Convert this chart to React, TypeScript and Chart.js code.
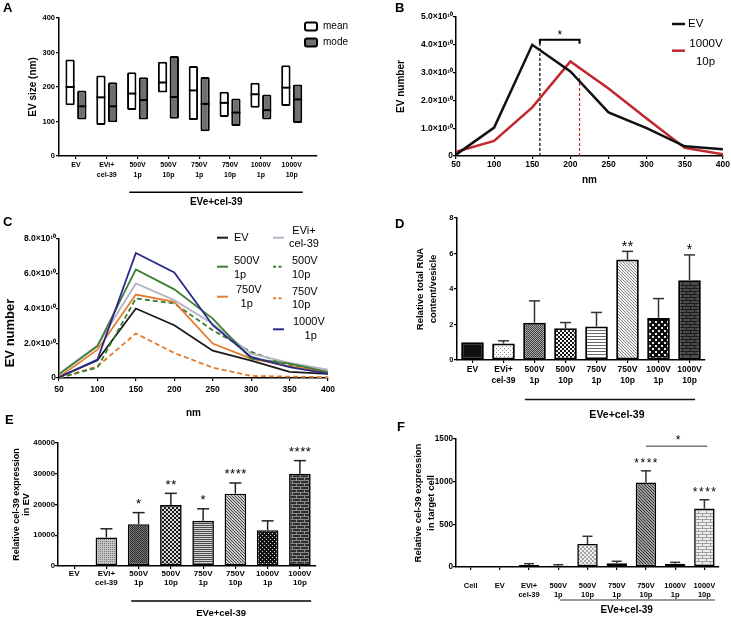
import React, { useEffect, useRef } from 'react';
import { Chart, registerables } from 'chart.js';

Chart.register(...registerables);

const FONT = 'Arial, "Liberation Sans", Helvetica, sans-serif';
Chart.defaults.font.family = FONT;
Chart.defaults.color = '#000';

// ================= DATA =================
const groupLabels: string[][] = [
  ['EV'], ['EVi+', 'cel-39'], ['500V', '1p'], ['500V', '10p'],
  ['750V', '1p'], ['750V', '10p'], ['1000V', '1p'], ['1000V', '10p'],
];
const targetLabels: string[][] = [['Cell'], ...groupLabels];
const groupCaption = 'EVe+cel-39';

// Panel A: EV size (nm), floating boxes low/high with median line
const meanLow = [147, 90, 133, 184, 104, 113, 140, 145];
const meanMid = [200, 170, 181, 213, 190, 154, 179, 198];
const meanHigh = [280, 233, 243, 273, 261, 186, 212, 263];
const modeLow = [106, 98, 106, 108, 72, 87, 106, 96];
const modeMid = [144, 144, 162, 171, 151, 126, 133, 164];
const modeHigh = [190, 214, 228, 290, 229, 167, 178, 207];

// Panels B and C: size distribution (EV number per size bin)
const sizeBins = [50, 100, 150, 200, 250, 300, 350, 400];
const countEV = [0.05e10, 1.02e10, 4.0e10, 3.04e10, 1.57e10, 1.0e10, 0.35e10, 0.24e10];
const countEVi = [0.25e10, 1.88e10, 5.44e10, 4.48e10, 3.13e10, 1.4e10, 0.87e10, 0.48e10];
const count500V1p = [0.21e10, 1.83e10, 6.25e10, 5.1e10, 3.42e10, 1.12e10, 0.83e10, 0.35e10];
const count500V10p = [0, 0.6e10, 4.58e10, 4.29e10, 2.75e10, 1.5e10, 0.73e10, 0.29e10];
const count750V1p = [0.05e10, 1.63e10, 4.8e10, 4.38e10, 1.98e10, 1.12e10, 0.67e10, 0.35e10];
const count750V10p = [0, 0.67e10, 2.56e10, 1.44e10, 0.6e10, 0.12e10, 0.08e10, 0.05e10];
const count1000V1p = [0.05e10, 1.06e10, 7.2e10, 6.08e10, 3.04e10, 1.21e10, 0.63e10, 0.25e10];
const count1000V10p = [0.15e10, 0.54e10, 1.75e10, 3.4e10, 2.43e10, 1.35e10, 0.29e10, 0.06e10];
const peakEV = 160;
const peak1000V10p = 212;
const bracketTop = 4.18e10;
const bracketFoot = 4.04e10;
const redGuideTop = 2.9e10;

// Panel D: relative total RNA content / vesicle
const rnaMean = [1.0, 0.93, 2.1, 1.79, 1.89, 5.66, 2.37, 4.5];
const rnaSem = [0, 0.15, 1.23, 0.32, 0.79, 0.46, 1.09, 1.42];
const rnaStars = ['', '', '', '', '', '**', '', '*'];

// Panel E: relative cel-39 expression in EV
const evExpr = [0, 9300, 13600, 19800, 14700, 23530, 11650, 30000];
const evExprSem = [0, 2800, 3760, 3830, 3900, 3470, 3030, 4270];
const evExprStars = ['', '', '*', '**', '*', '****', '', '****'];

// Panel F: relative cel-39 expression in target cell
const cellExpr = [1, 2, 23, 16, 270, 45, 990, 38, 685];
const cellExprSem = [0, 0, 16, 11, 90, 22, 137, 17, 103];
const cellExprStars = ['', '', '', '', '', '', '****', '', '****'];

// ================= HELPERS =================
const RED = '#c1272d';
const GREEN = '#3b7d33';
const ORANGE = '#e57b2c';
const NAVY = '#2b2a8a';
const LIGHT = '#b4b4c4';

const tickGrid = () => ({
  display: true, drawOnChartArea: false, drawTicks: true, tickLength: 3,
  tickWidth: 1.2, tickColor: '#000', offset: false, color: '#000', lineWidth: 1.2,
});
const axisBorder = () => ({ display: true, color: '#000', width: 1.5 });
const boldFont = (size: number, lineHeight = 1.2) => ({ family: FONT, size, weight: 'bold' as const, lineHeight });
const fitW = (w: number) => (s: any) => { s.width = w; };
const fitH = (h: number) => (s: any) => { s.height = h; };
const baseOpts = (top: number, right: number) => ({
  responsive: false,
  animation: false as const,
  events: [] as any[],
  layout: { padding: { left: 0, top, right, bottom: 0 } },
  plugins: { legend: { display: false }, tooltip: { enabled: false } },
});
const sciTick = (v: any) => (v === 0 ? '0' : `${(v / 1e10).toFixed(1)}×10¹⁰`);
const plainTick = (v: any) => String(v);

function text(ctx: any, s: string, x: number, y: number, font: string, align = 'left', color = '#000', rot = 0) {
  ctx.save();
  ctx.translate(x, y);
  if (rot) ctx.rotate(rot);
  ctx.font = font;
  ctx.fillStyle = color;
  ctx.textAlign = align;
  ctx.textBaseline = 'middle';
  ctx.fillText(s, 0, 0);
  ctx.restore();
}
function seg(ctx: any, x1: number, y1: number, x2: number, y2: number, color: string, w: number, dash: number[] = []) {
  ctx.save();
  ctx.strokeStyle = color;
  ctx.lineWidth = w;
  ctx.setLineDash(dash);
  ctx.beginPath();
  ctx.moveTo(x1, y1);
  ctx.lineTo(x2, y2);
  ctx.stroke();
  ctx.restore();
}
const letterFont = `bold 13px ${FONT}`;

function groupBar(chart: any, from: number, to: number, at: number, lineY: number, textY: number, color: string, font: string) {
  const xs = chart.scales.x;
  seg(chart.ctx, xs.getPixelForValue(from), lineY, xs.getPixelForValue(to), lineY, color, 1.4);
  text(chart.ctx, groupCaption, xs.getPixelForValue(at), textY, font, 'center');
}

function errorBars(sem: number[], stars: string[], cap: number, starSize: number, spacing: number, gap: number, color: string) {
  return {
    id: 'errorBars',
    afterDatasetsDraw(chart: any) {
      const meta = chart.getDatasetMeta(0);
      const ys = chart.scales.y;
      const vals = chart.data.datasets[0].data;
      const ctx = chart.ctx;
      meta.data.forEach((el: any, i: number) => {
        const top = ys.getPixelForValue(vals[i] + sem[i]);
        if (sem[i] > 0) {
          seg(ctx, el.x, el.y, el.x, top, color, 1.5);
          seg(ctx, el.x - cap, top, el.x + cap, top, color, 1.5);
        }
        if (stars[i]) {
          ctx.save();
          ctx.font = `${starSize}px ${FONT}`;
          (ctx as any).letterSpacing = `${spacing}px`;
          ctx.fillStyle = '#000';
          ctx.textAlign = 'center';
          ctx.textBaseline = 'alphabetic';
          ctx.fillText(stars[i], el.x + spacing / 2, top - gap);
          ctx.restore();
        }
      });
    },
  };
}

function pat(w: number, h: number, bg: string, fg: string, cells: number[][]): any {
  const cv = document.createElement('canvas');
  cv.width = w;
  cv.height = h;
  const c = cv.getContext('2d')!;
  c.fillStyle = bg;
  c.fillRect(0, 0, w, h);
  c.fillStyle = fg;
  cells.forEach(([x, y, cw = 1, ch = 1]) => c.fillRect(x, y, cw, ch));
  return c.createPattern(cv, 'repeat');
}
const fineChecker = (a: string, b: string) => pat(2, 2, a, b, [[0, 0], [1, 1]]);
const checker = (a: string, b: string, s: number) => pat(2 * s, 2 * s, a, b, [[0, 0, s, s], [s, s, s, s]]);
const hLines = (bg: string, fg: string, step: number) => pat(1, step, bg, fg, [[0, 0]]);
const diagLines = (bg: string, fg: string, step: number) => pat(step, step, bg, fg, [[0, 0], [1, 1], [2, 2], [3, 3]].slice(0, step));
const dotGrid = (bg: string, fg: string, step: number, d: number) => pat(2 * step, 2 * step, bg, fg, [[0, 0, d, d], [step, step, d, d]]);
const bricks = (bg: string, fg: string) => pat(8, 6, bg, fg, [[0, 0, 8, 1], [0, 3, 8, 1], [0, 1, 1, 2], [4, 4, 1, 2]]);

// ================= PANEL A =================
function makeA(cv: HTMLCanvasElement) {
  const idx = groupLabels.map((_, i) => i);
  const boxBase = { type: 'bar', order: 2, borderColor: '#000', borderWidth: 2, borderSkipped: false, borderRadius: 1.5, categoryPercentage: 0.76, barPercentage: 0.8 };
  const medBase = { type: 'scatter', order: 1, pointStyle: 'line', pointRadius: 4.5, pointBorderWidth: 2, pointBorderColor: '#000', borderColor: '#000', backgroundColor: '#000' };
  return new Chart(cv, {
    type: 'bar',
    data: {
      datasets: [
        { ...boxBase, label: 'mean', backgroundColor: '#fff', data: idx.map((i) => ({ x: i, y: [meanLow[i], meanHigh[i]] })) },
        { ...boxBase, label: 'mode', backgroundColor: '#6f6f6f', data: idx.map((i) => ({ x: i, y: [modeLow[i], modeHigh[i]] })) },
        { ...medBase, data: idx.map((i) => ({ x: i - 0.19, y: meanMid[i] })) },
        { ...medBase, data: idx.map((i) => ({ x: i + 0.19, y: modeMid[i] })) },
      ] as any,
    },
    options: {
      ...baseOpts(18, 53),
      scales: {
        x: {
          type: 'linear', min: -0.55, max: 7.82, offset: false, grid: tickGrid(), border: axisBorder(),
          afterBuildTicks: (s: any) => { s.ticks = idx.map((v) => ({ value: v })); },
          ticks: { color: '#000', font: boldFont(7, 1.43), padding: 1, maxRotation: 0, autoSkip: false, callback: (v: any) => groupLabels[v] ?? '' },
          afterFit: fitH(54),
        },
        y: {
          min: 0, max: 400, grid: tickGrid(), border: axisBorder(),
          ticks: { stepSize: 100, color: '#000', font: boldFont(7.5), padding: 1 },
          title: { display: true, text: 'EV size (nm)', color: '#000', font: boldFont(10), padding: { top: 27, bottom: 0 } },
          afterFit: fitW(59),
        },
      },
    } as any,
    plugins: [{
      id: 'decorA',
      afterDraw(chart: any) {
        const ctx = chart.ctx;
        text(ctx, 'A', 3, 8, letterFont);
        groupBar(chart, 1.73, 7.36, 4.55, 192.3, 202, '#000', `bold 10px ${FONT}`);
        ctx.save();
        ctx.lineWidth = 2;
        ctx.strokeStyle = '#000';
        ctx.fillStyle = '#fff';
        ctx.beginPath(); ctx.roundRect(305, 22.5, 12, 8, 2); ctx.fill(); ctx.stroke();
        ctx.fillStyle = '#6f6f6f';
        ctx.beginPath(); ctx.roundRect(305, 38.5, 12, 8, 2); ctx.fill(); ctx.stroke();
        ctx.restore();
        text(ctx, 'mean', 323, 26.5, `10px ${FONT}`);
        text(ctx, 'mode', 323, 42.5, `10px ${FONT}`);
      },
    }],
  });
}

// ================= PANEL B =================
function makeB(cv: HTMLCanvasElement) {
  const line = (ys: number[], color: string) => ({
    data: sizeBins.map((b, i) => ({ x: b, y: ys[i] })), borderColor: color, borderWidth: 2.5, pointRadius: 0, tension: 0,
  });
  return new Chart(cv, {
    type: 'line',
    data: {
      datasets: [
        line(countEV, '#111'),
        line(count1000V10p, RED),
        { data: [{ x: peakEV, y: 0 }, { x: peakEV, y: bracketTop }], borderColor: '#000', borderWidth: 1.2, borderDash: [3, 2], pointRadius: 0 },
        { data: [{ x: peak1000V10p, y: 0 }, { x: peak1000V10p, y: redGuideTop }], borderColor: RED, borderWidth: 1.2, borderDash: [3, 2], pointRadius: 0 },
        { data: [{ x: peakEV, y: bracketFoot }, { x: peakEV, y: bracketTop }, { x: peak1000V10p, y: bracketTop }, { x: peak1000V10p, y: bracketFoot }], borderColor: '#000', borderWidth: 2, pointRadius: 0 },
      ] as any,
    },
    options: {
      ...baseOpts(17, 8),
      scales: {
        x: {
          type: 'linear', min: 50, max: 400, grid: tickGrid(), border: axisBorder(),
          ticks: { stepSize: 50, color: '#000', font: boldFont(8.5), padding: 1, maxRotation: 0 },
          title: { display: true, text: 'nm', color: '#000', font: boldFont(10), padding: { top: 0, bottom: 24 } },
          afterFit: fitH(54),
        },
        y: {
          min: 0, max: 5e10, grid: tickGrid(), border: axisBorder(),
          ticks: { stepSize: 1e10, color: '#000', font: boldFont(8.5), padding: 0, callback: sciTick },
          title: { display: true, text: 'EV number', color: '#000', font: boldFont(10), padding: { top: 25.7, bottom: 0 } },
          afterFit: fitW(86),
        },
      },
    } as any,
    plugins: [{
      id: 'decorB',
      afterDraw(chart: any) {
        const ctx = chart.ctx;
        text(ctx, 'B', 25, 8, letterFont);
        const xs = chart.scales.x;
        const ys = chart.scales.y;
        ctx.save();
        ctx.font = `12px ${FONT}`;
        ctx.textAlign = 'center';
        ctx.textBaseline = 'alphabetic';
        ctx.fillStyle = '#000';
        ctx.fillText('*', xs.getPixelForValue((peakEV + peak1000V10p) / 2), ys.getPixelForValue(bracketTop) - 1);
        ctx.restore();
        seg(ctx, 302, 24, 315, 24, '#111', 2.5);
        text(ctx, 'EV', 318, 24, `11.5px ${FONT}`);
        seg(ctx, 302, 50.7, 315, 50.7, RED, 2.5);
        text(ctx, '1000V', 336, 44, `11.5px ${FONT}`, 'center');
        text(ctx, '10p', 335.5, 61.7, `11.5px ${FONT}`, 'center');
      },
    }],
  });
}

// ================= PANEL C =================
function makeC(cv: HTMLCanvasElement) {
  const line = (ys: number[], color: string, dash: number[] = []) => ({
    data: sizeBins.map((b, i) => ({ x: b, y: ys[i] })), borderColor: color, borderWidth: 1.8, borderDash: dash, pointRadius: 0, tension: 0,
  });
  return new Chart(cv, {
    type: 'line',
    data: {
      datasets: [
        line(count1000V1p, NAVY),
        line(count500V1p, GREEN),
        line(countEVi, LIGHT),
        line(count750V1p, ORANGE),
        line(count500V10p, GREEN, [5, 3]),
        line(countEV, '#1a1a1a'),
        line(count750V10p, ORANGE, [5, 3]),
      ] as any,
    },
    options: {
      ...baseOpts(29, 42),
      scales: {
        x: {
          type: 'linear', min: 50, max: 400, grid: tickGrid(), border: axisBorder(),
          ticks: { stepSize: 50, color: '#000', font: boldFont(8.5), padding: 4, maxRotation: 0 },
          title: { display: true, text: 'nm', color: '#000', font: boldFont(10), padding: { top: 0, bottom: 3 } },
          afterFit: fitH(44),
        },
        y: {
          min: 0, max: 8e10, grid: tickGrid(), border: axisBorder(),
          ticks: { stepSize: 2e10, color: '#000', font: boldFont(8.5), padding: 0, callback: sciTick },
          afterFit: fitW(59),
        },
      },
    } as any,
    plugins: [{
      id: 'decorC',
      afterDraw(chart: any) {
        const ctx = chart.ctx;
        text(ctx, 'C', 3, 12, letterFont);
        text(ctx, 'EV number', 10, 123, `bold 13px ${FONT}`, 'center', '#000', -Math.PI / 2);
        const f = `11px ${FONT}`;
        seg(ctx, 217, 27.7, 228, 27.7, '#1a1a1a', 2);
        text(ctx, 'EV', 234, 27.7, f);
        seg(ctx, 273, 27.7, 284, 27.7, LIGHT, 2);
        text(ctx, 'EVi+', 304, 21, f, 'center');
        text(ctx, 'cel-39', 304, 34.3, f, 'center');
        seg(ctx, 217, 56.7, 228, 56.7, GREEN, 2);
        text(ctx, '500V', 234, 51, f);
        text(ctx, '1p', 234, 65, f);
        seg(ctx, 273, 56.7, 284, 56.7, GREEN, 2, [3, 2.5]);
        text(ctx, '500V', 292, 51, f);
        text(ctx, '10p', 292, 65, f);
        seg(ctx, 217, 86.7, 228, 86.7, ORANGE, 2);
        text(ctx, '750V', 236, 80, f);
        text(ctx, '1p', 246.7, 94.3, f, 'center');
        seg(ctx, 273, 88.3, 284, 88.3, ORANGE, 2, [3, 2.5]);
        text(ctx, '750V', 292, 82.3, f);
        text(ctx, '10p', 292, 95, f);
        seg(ctx, 273, 119.3, 284, 119.3, NAVY, 2);
        text(ctx, '1000V', 293, 112.3, f);
        text(ctx, '1p', 310.7, 125.7, f, 'center');
      },
    }],
  });
}

// ================= PANEL D =================
function makeD(cv: HTMLCanvasElement) {
  const fills = [
    '#111111',
    pat(4, 4, '#fbfbfb', '#8a8a8a', [[0, 0], [2, 2]]),
    fineChecker('#3a3a3a', '#b0b0b0'),
    checker('#111111', '#f5f5f5', 2),
    hLines('#ffffff', '#666666', 3),
    diagLines('#f2f2f2', '#888888', 3),
    dotGrid('#0d0d0d', '#e8e8e8', 3, 2),
    bricks('#4a4a4a', '#1a1a1a'),
  ];
  return new Chart(cv, {
    type: 'bar',
    data: {
      labels: groupLabels as any,
      datasets: [{ data: rnaMean, backgroundColor: fills, borderColor: '#000', borderWidth: 2, borderSkipped: false, categoryPercentage: 1, barPercentage: 0.73 }] as any,
    },
    options: {
      ...baseOpts(8, 26),
      scales: {
        x: {
          grid: tickGrid(), border: axisBorder(),
          ticks: { color: '#000', font: boldFont(8.5, 1.3), padding: 0.8, maxRotation: 0, autoSkip: false },
          afterFit: fitH(62),
        },
        y: {
          min: 0, max: 8, grid: tickGrid(), border: axisBorder(),
          ticks: { stepSize: 2, color: '#000', font: boldFont(7.5), padding: 0.7 },
          title: { display: true, text: ['Relative total RNA', 'content/vesicle'], color: '#000', font: boldFont(9.5, 1.37), padding: { top: 43.5, bottom: 0 } },
          afterFit: fitW(87),
        },
      },
    } as any,
    plugins: [
      errorBars(rnaSem, rnaStars, 5.5, 14, 0.5, 0.5, '#333'),
      {
        id: 'decorD',
        afterDraw(chart: any) {
          text(chart.ctx, 'D', 25, 14, letterFont);
          groupBar(chart, 1.69, 7.18, 4.66, 189.5, 205, '#111', `bold 10.5px ${FONT}`);
        },
      },
    ],
  });
}

// ================= PANEL E =================
function makeE(cv: HTMLCanvasElement) {
  const fills = [
    '#ffffff',
    pat(2, 2, '#c4c4c4', '#7a7a7a', [[0, 0]]),
    fineChecker('#2a2a2a', '#7a7a7a'),
    checker('#1a1a1a', '#d8d8d8', 2),
    hLines('#d6d6d6', '#4a4a4a', 2),
    diagLines('#c8c8c8', '#4a4a4a', 3),
    dotGrid('#111111', '#dcdcdc', 2, 1),
    bricks('#2e2e2e', '#8a8a8a'),
  ];
  return new Chart(cv, {
    type: 'bar',
    data: {
      labels: groupLabels as any,
      datasets: [{ data: evExpr, backgroundColor: fills, borderColor: '#000', borderWidth: 1.6, borderSkipped: false, categoryPercentage: 1, barPercentage: 0.67 }] as any,
    },
    options: {
      ...baseOpts(38, 54),
      scales: {
        x: {
          grid: tickGrid(), border: axisBorder(),
          ticks: { color: '#000', font: boldFont(8, 1.1), padding: 0.6, maxRotation: 0, autoSkip: false },
          afterFit: fitH(52),
        },
        y: {
          min: 0, max: 40000, grid: tickGrid(), border: axisBorder(),
          ticks: { stepSize: 10000, color: '#000', font: boldFont(7.8), padding: 0, callback: plainTick },
          title: { display: true, text: ['Relative cel-39 expression', 'in EV'], color: '#000', font: boldFont(9, 1.1), padding: { top: 12, bottom: 0 } },
          afterFit: fitW(58),
        },
      },
    } as any,
    plugins: [
      errorBars(evExprSem, evExprStars, 6, 13, 0.5, 4.5, '#222'),
      {
        id: 'decorE',
        afterDraw(chart: any) {
          text(chart.ctx, 'E', 5, 15, letterFont);
          groupBar(chart, 1.77, 7.35, 4.56, 196, 208, '#000', `bold 9.5px ${FONT}`);
        },
      },
    ],
  });
}

// ================= PANEL F =================
function makeF(cv: HTMLCanvasElement) {
  const fills = [
    '#ffffff', '#ffffff', '#8a8a8a', '#3a3a3a',
    checker('#a8a8a8', '#f0f0f0', 2),
    '#8a8a8a',
    diagLines('#a0a0a0', '#303030', 3),
    bricks('#e0e0e0', '#707070'),
    bricks('#ececec', '#a0a0a0'),
  ];
  return new Chart(cv, {
    type: 'bar',
    data: {
      labels: targetLabels as any,
      datasets: [{ data: cellExpr, backgroundColor: fills, borderColor: '#000', borderWidth: 1.6, borderSkipped: false, categoryPercentage: 1, barPercentage: 0.7 }] as any,
    },
    options: {
      ...baseOpts(19, 12),
      scales: {
        x: {
          grid: tickGrid(), border: axisBorder(),
          ticks: { color: '#000', font: boldFont(7.5, 1.2), padding: 11.5, maxRotation: 0, autoSkip: false },
          afterFit: fitH(51),
        },
        y: {
          min: 0, max: 1500, grid: tickGrid(), border: axisBorder(),
          ticks: { stepSize: 500, color: '#000', font: boldFont(8.2), padding: 0, callback: plainTick },
          title: { display: true, text: ['Relative cel-39 expression', 'in target cell'], color: '#000', font: boldFont(9.5, 1.41), padding: { top: 41.6, bottom: 0 } },
          afterFit: fitW(86),
        },
      },
    } as any,
    plugins: [
      errorBars(cellExprSem, cellExprStars, 5, 12, 1.5, 4, '#333'),
      {
        id: 'decorF',
        afterDraw(chart: any) {
          const ctx = chart.ctx;
          text(ctx, 'F', 27, 7, letterFont);
          const xs = chart.scales.x;
          const ys = chart.scales.y;
          const sigY = ys.getPixelForValue(1415);
          seg(ctx, xs.getPixelForValue(6), sigY, xs.getPixelForValue(8.1), sigY, '#777', 1.3);
          ctx.save();
          ctx.font = `12px ${FONT}`;
          ctx.textAlign = 'center';
          ctx.textBaseline = 'alphabetic';
          ctx.fillStyle = '#000';
          ctx.fillText('*', xs.getPixelForValue(7.1), sigY - 2);
          ctx.restore();
          groupBar(chart, 3.05, 8.36, 5.34, 180, 190, '#777', `bold 10px ${FONT}`);
        },
      },
    ],
  });
}

// ================= COMPONENTS =================
function ChartCanvas({ left, top, width, height, make }: { left: number; top: number; width: number; height: number; make: (cv: HTMLCanvasElement) => Chart }) {
  const ref = useRef<HTMLCanvasElement>(null);
  useEffect(() => {
    const chart = make(ref.current!);
    return () => chart.destroy();
  }, []);
  return <canvas ref={ref} width={width} height={height} style={{ position: 'absolute', left, top, width, height }} />;
}

export default function App() {
  return (
    <div style={{ position: 'absolute', left: 0, top: 0, width: 731, height: 618, background: '#fff', overflow: 'hidden' }}>
      <ChartCanvas left={0} top={0} width={370} height={210} make={makeA} />
      <ChartCanvas left={370} top={0} width={361} height={210} make={makeB} />
      <ChartCanvas left={0} top={210} width={370} height={212} make={makeC} />
      <ChartCanvas left={370} top={210} width={361} height={212} make={makeD} />
      <ChartCanvas left={0} top={405} width={370} height={213} make={makeE} />
      <ChartCanvas left={370} top={420} width={361} height={198} make={makeF} />
    </div>
  );
}
